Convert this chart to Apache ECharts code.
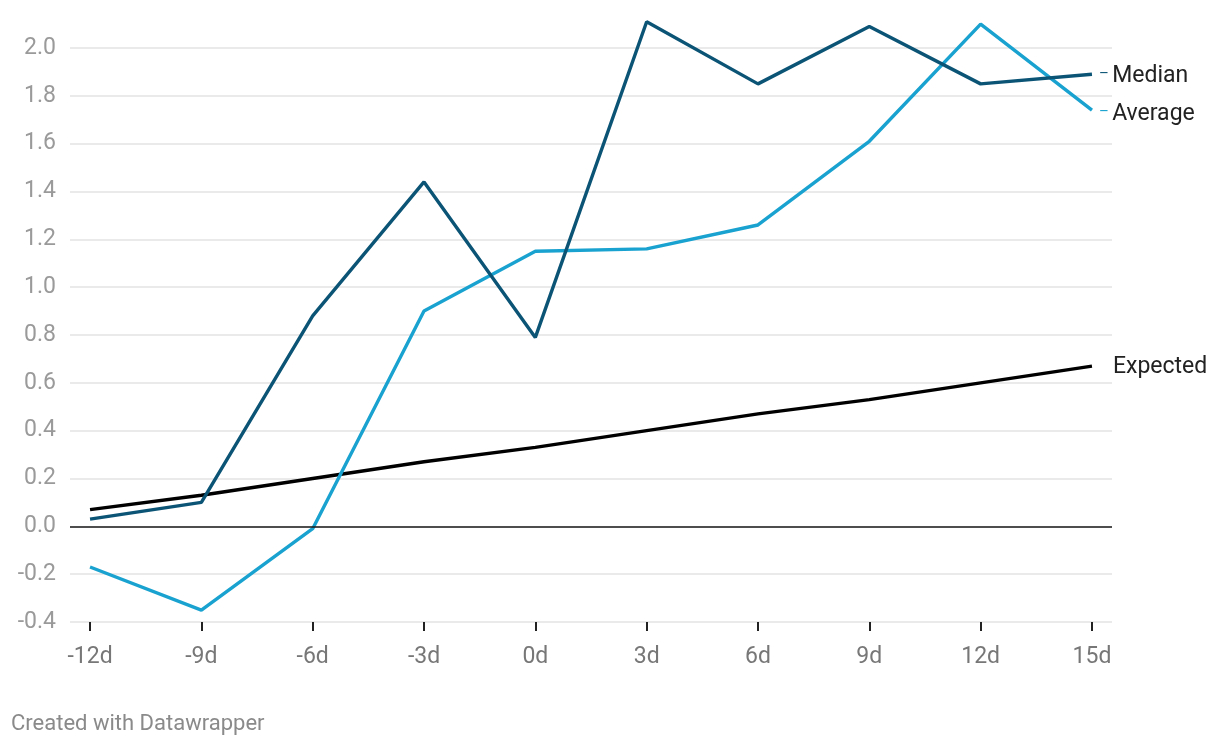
<!DOCTYPE html>
<html>
<head>
<meta charset="utf-8">
<script src="https://cdn.jsdelivr.net/npm/echarts@6/dist/echarts.min.js"></script>
<style>
html,body{margin:0;padding:0;background:#fff;}
#chart{width:1220px;height:748px;}
#foot{position:absolute;left:11px;top:710px;font-family:Roboto,sans-serif;font-size:22px;color:#8a8a8a;}
</style>
</head>
<body>
<div id="chart"></div>
<div id="foot">Created with Datawrapper</div>
<script>
var days = [-12, -9, -6, -3, 0, 3, 6, 9, 12, 15];
var median = [0.03, 0.10, 0.88, 1.44, 0.79, 2.11, 1.85, 2.09, 1.85, 1.89];
var average = [-0.17, -0.35, -0.01, 0.90, 1.15, 1.16, 1.26, 1.61, 2.10, 1.74];
var expected = [0.07, 0.13, 0.20, 0.27, 0.33, 0.40, 0.47, 0.53, 0.60, 0.67];
var yTicks = [-0.4, -0.2, 0.0, 0.2, 0.4, 0.6, 0.8, 1.0, 1.2, 1.4, 1.6, 1.8, 2.0];

function pairs(vals){ return days.map(function(d,i){ return [d, vals[i]]; }); }

var chart = echarts.init(document.getElementById('chart'));
var font = 'Roboto, sans-serif';
function endLbl(name, color, dash, padTop){
  return {
    show: true,
    distance: dash ? 7 : 21,
    formatter: dash ? '{d|–} {n|' + name + '}' : '{n|' + name + '}',
    rich: {
      d: {color: color, fontSize: 15, fontFamily: font, padding: [padTop - 3, 0, 0, 0]},
      n: {color: '#222', fontSize: 23, fontFamily: font, padding: [padTop, 0, 0, 0]}
    }
  };
}
chart.setOption({
  animation: false,
  grid: {left: 70, right: 108, top: 48, bottom: 126},
  xAxis: {
    type: 'value', min: -12.54, max: 15.54,
    splitLine: {show: false},
    axisLine: {show: false, onZero: false},
    axisTick: {show: true, length: 9, lineStyle: {color: '#222', width: 2}, customValues: days},
    axisLabel: {customValues: days, formatter: function(v){ return v + 'd'; }, color: '#777', fontSize: 23, fontFamily: font, margin: 24}
  },
  yAxis: {
    type: 'value', min: -0.4, max: 2.0, interval: 0.2,
    axisLine: {show: false}, axisTick: {show: false},
    splitLine: {lineStyle: {color: '#e3e3e3', width: 1.5}},
    axisLabel: {color: '#9a9a9a', fontSize: 23, fontFamily: font, margin: 14,
      formatter: function(v){ return v.toFixed(1); }}
  },
  series: [
    {name: 'Zero', type: 'line', data: [], silent: true, z: 1,
      markLine: {silent: true, symbol: 'none', label: {show: false},
        lineStyle: {color: '#1a1a1a', width: 1.7, type: 'solid'},
        data: [{yAxis: 0}]}},
    {name: 'Expected', type: 'line', data: pairs(expected), clip: false, symbol: 'none', z: 3,
      lineStyle: {color: '#000', width: 3.4}, endLabel: endLbl('Expected', '#000', false, 3)},
    {name: 'Average', type: 'line', data: pairs(average), clip: false, symbol: 'none', z: 4,
      lineStyle: {color: '#19a2cf', width: 3.4}, endLabel: endLbl('Average', '#19a2cf', true, 8)},
    {name: 'Median', type: 'line', data: pairs(median), clip: false, symbol: 'none', z: 5,
      lineStyle: {color: '#0c5476', width: 3.4}, endLabel: endLbl('Median', '#0c5476', true, 3)}
  ]
});
</script>
</body>
</html>
